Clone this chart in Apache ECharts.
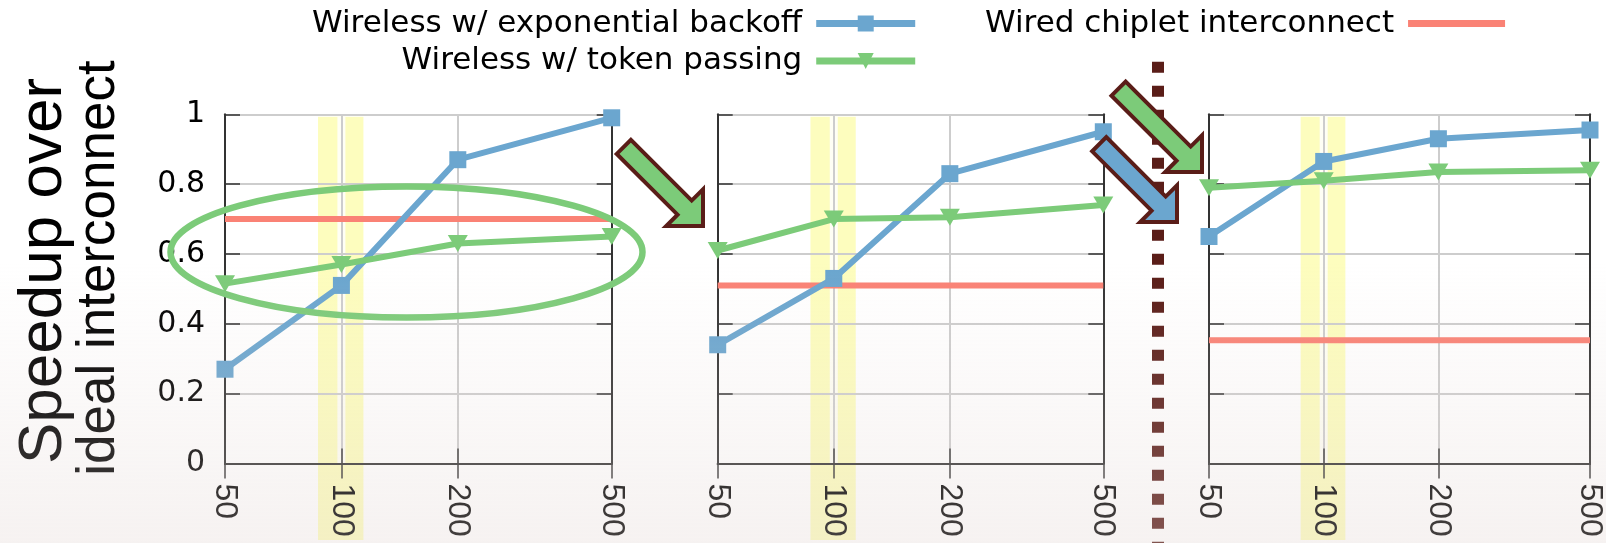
<!DOCTYPE html>
<html>
<head>
<meta charset="utf-8">
<script src="https://cdn.jsdelivr.net/npm/echarts@6/dist/echarts.min.js"></script>
<style>
html,body{margin:0;padding:0;background:#fff;}
#wrap{position:relative;width:1606px;height:543px;}
#c{width:1606px;height:543px;}
#shade{position:absolute;left:0;top:0;width:1606px;height:543px;pointer-events:none;
background:linear-gradient(to bottom,rgba(225,212,209,0) 0px,rgba(225,212,209,0) 262px,rgba(225,212,209,0.3) 543px);}
</style>
</head>
<body>
<div id="wrap"><div id="c"></div><div id="shade"></div></div>
<script>
// ---- data ----
const xValues = [50, 100, 200, 500];
const xTickLabels = ['50', '100', '200', '500'];
const seriesNames = ['Wireless w/ exponential backoff', 'Wireless w/ token passing', 'Wired chiplet interconnect'];
const backoff1 = [0.27, 0.51, 0.87, 0.99];
const token1   = [0.515, 0.57, 0.63, 0.65];
const wired1   = 0.70;
const backoff2 = [0.34, 0.53, 0.83, 0.95];
const token2   = [0.61, 0.70, 0.705, 0.74];
const wired2   = 0.51;
const backoff3 = [0.65, 0.865, 0.93, 0.955];
const token3   = [0.79, 0.81, 0.835, 0.84];
const wired3   = 0.353;
const highlightRange = [87, 114];
const axisTitleLines = ['Speedup over', 'ideal interconnect'];

// ---- styling ----
const BLUE = '#6ba6cf', GREEN = '#7ccb79', RED = '#fa8275', DARK = '#5a1d18';
const TRI = 'path://M0,0L20,0L10,17Z';
const panels = [
  {backoff: backoff1, token: token1, wired: wired1},
  {backoff: backoff2, token: token2, wired: wired2},
  {backoff: backoff3, token: token3, wired: wired3}
];
const gridPos = [{left: 225, width: 386.7}, {left: 717.7, width: 385.6}, {left: 1209, width: 387}];
const GTOP = 114.3, GH = 349.2;

const chart = echarts.init(document.getElementById('c'), null, {renderer: 'canvas'});
const grid = [], xAxis = [], yAxis = [], series = [];
const lineAxis = {show: true, lineStyle: {color: '#333', width: 2}};
const tick = {show: true, inside: true, length: 15, lineStyle: {color: '#333', width: 1.5}};
panels.forEach((p, i) => {
  grid.push({left: gridPos[i].left, width: gridPos[i].width, top: GTOP, height: GH, containLabel: false});
  xAxis.push({
    type: 'log', logBase: 10, gridIndex: i, min: 50, max: 500, position: 'bottom',
    axisLine: lineAxis,
    axisTick: Object.assign({customValues: xValues}, tick),
    axisLabel: {show: true, customValues: xValues, rotate: -90, margin: 20,
      fontFamily: 'Liberation Sans', fontSize: 32, color: '#000',
      formatter: v => xTickLabels[xValues.indexOf(Math.round(v))] || ''},
    splitLine: {show: true, lineStyle: {color: '#cdcdcd', width: 2}},
    minorTick: {show: false}, minorSplitLine: {show: false}
  });
  xAxis.push({
    type: 'log', logBase: 10, gridIndex: i, min: 50, max: 500, position: 'top',
    axisLine: lineAxis,
    axisTick: Object.assign({customValues: xValues}, tick),
    axisLabel: {show: false}, splitLine: {show: false}
  });
  yAxis.push({
    type: 'value', gridIndex: i, min: 0, max: 1, interval: 0.2, position: 'left',
    axisLine: lineAxis, axisTick: tick,
    axisLabel: {show: i === 0, margin: 20, fontFamily: 'DejaVu Sans', fontSize: 30, color: '#000',
      formatter: v => String(Math.round(v * 10) / 10)},
    splitLine: {show: true, lineStyle: {color: '#cdcdcd', width: 2}}
  });
  yAxis.push({
    type: 'value', gridIndex: i, min: 0, max: 1, interval: 0.2, position: 'right',
    axisLine: lineAxis, axisTick: tick, axisLabel: {show: false}, splitLine: {show: false}
  });
  series.push({
    name: seriesNames[2], type: 'line', xAxisIndex: 2 * i, yAxisIndex: 2 * i,
    data: [[xValues[0], p.wired], [xValues[xValues.length - 1], p.wired]],
    symbol: 'none', lineStyle: {color: RED, width: 6}, itemStyle: {color: RED}, z: 3
  });
  series.push({
    name: seriesNames[0], type: 'line', xAxisIndex: 2 * i, yAxisIndex: 2 * i,
    data: xValues.map((x, k) => [x, p.backoff[k]]),
    symbol: 'rect', symbolSize: 17, showAllSymbol: true,
    lineStyle: {color: BLUE, width: 6}, itemStyle: {color: BLUE}, z: 4
  });
  series.push({
    name: seriesNames[1], type: 'line', xAxisIndex: 2 * i, yAxisIndex: 2 * i,
    data: xValues.map((x, k) => [x, p.token[k]]),
    symbol: TRI, symbolSize: [20, 17], showAllSymbol: true,
    lineStyle: {color: GREEN, width: 6}, itemStyle: {color: GREEN}, z: 5
  });
});

const legendText = {fontFamily: 'DejaVu Sans', fontSize: 31, color: '#000', padding: [0, 9, 0, 0], lineHeight: 31};
const option = {
  animation: false,
  grid, xAxis, yAxis, series,
  legend: [
    {data: [seriesNames[0], seriesNames[1]], orient: 'vertical', align: 'right', left: 312, top: 8,
     itemWidth: 99, itemHeight: 20, itemGap: 6.5, selectedMode: false, padding: 0,
     lineStyle: {width: 7}, textStyle: legendText},
    {data: [{name: seriesNames[2], icon: 'rect'}], orient: 'vertical', align: 'right', left: 985, top: 8,
     itemWidth: 97, itemHeight: 7, itemGap: 6.5, selectedMode: false, padding: 0, textStyle: legendText}
  ]
};
chart.setOption(option);

// ---- decorations ----
function blockArrow(tipX, tipY, len, fill) {
  const u = [Math.SQRT1_2, Math.SQRT1_2], n = [-Math.SQRT1_2, Math.SQRT1_2];
  const h = 26, hw = 26, sw = 10;
  const local = [[0, 0], [-h, hw], [-h, sw], [-len, sw], [-len, -sw], [-h, -sw], [-h, -hw]];
  const pts = local.map(([a, b]) => [tipX + a * u[0] + b * n[0], tipY + a * u[1] + b * n[1]]);
  return {type: 'polygon', shape: {points: pts}, style: {fill, stroke: DARK, lineWidth: 4, lineJoin: 'miter'}, z: 20};
}
const graphics = [];
panels.forEach((p, i) => {
  const xa = chart.convertToPixel({xAxisIndex: 2 * i}, highlightRange[0]);
  const xb = chart.convertToPixel({xAxisIndex: 2 * i}, highlightRange[1]);
  const xm = chart.convertToPixel({xAxisIndex: 2 * i}, 100);
  const yTop = chart.convertToPixel({yAxisIndex: 2 * i}, 1);
  const yBot = chart.convertToPixel({yAxisIndex: 2 * i}, 0);
  graphics.push({type: 'rect', shape: {x: xa, y: yTop + 2.5, width: xb - xa, height: 540 - yTop - 2.5},
    style: {fill: '#fdfdbe'}, z: -10, silent: true});
  graphics.push({type: 'rect', shape: {x: xm - 4, y: yTop + 2.5, width: 8, height: yBot - yTop - 2.5},
    style: {fill: 'rgba(255,255,255,0.85)'}, z: -9, silent: true});
});
graphics.push({type: 'text', x: 44, y: 271, rotation: Math.PI / 2,
  style: {text: axisTitleLines[0], fontFamily: 'Liberation Sans', fontSize: 62, fill: '#000',
    align: 'center', verticalAlign: 'middle'}, z: 10});
graphics.push({type: 'text', x: 99, y: 268, rotation: Math.PI / 2,
  style: {text: axisTitleLines[1], fontFamily: 'Liberation Sans', fontSize: 53, fill: '#000',
    align: 'center', verticalAlign: 'middle'}, z: 10});
graphics.push({type: 'ellipse', shape: {cx: 406.5, cy: 252, rx: 236, ry: 65.5},
  style: {fill: 'none', stroke: GREEN, lineWidth: 6.5}, z: 15});
graphics.push({type: 'line', shape: {x1: 1158, y1: 61.7, x2: 1158, y2: 543},
  style: {stroke: DARK, lineWidth: 12, lineDash: [11, 13], lineCap: 'butt'}, z: 18});
graphics.push(blockArrow(703, 226, 112, GREEN));
graphics.push(blockArrow(1202, 172, 118, GREEN));
graphics.push(blockArrow(1177, 222, 110, BLUE));
chart.setOption({graphic: {elements: graphics}});
</script>
</body>
</html>
